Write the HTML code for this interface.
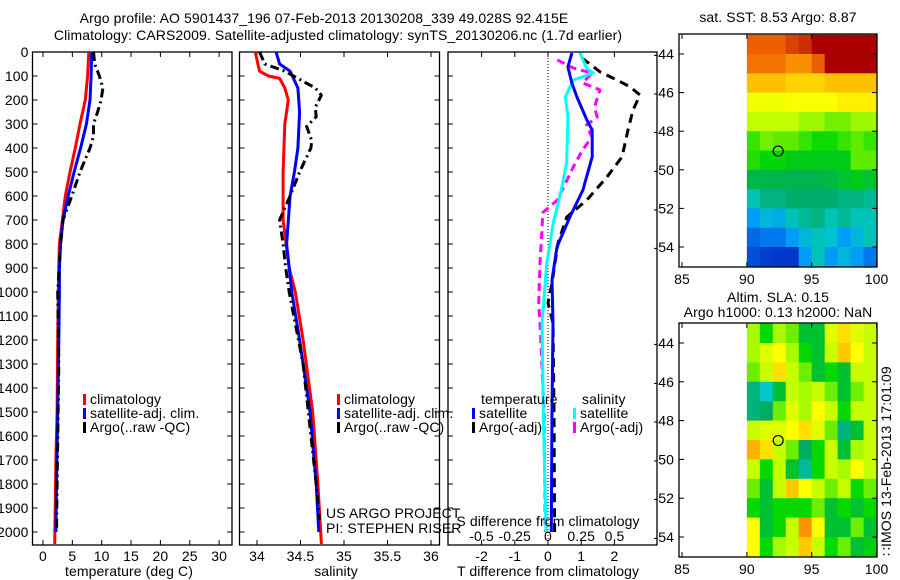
<!DOCTYPE html>
<html><head><meta charset="utf-8"><style>
body{margin:0;background:#fff;}
svg{display:block;font-family:"Liberation Sans",sans-serif;}
text{letter-spacing:0.1px;}
</style></head><body>
<svg id="fig" width="900" height="580" viewBox="0 0 900 580" xmlns="http://www.w3.org/2000/svg">
<g font-size="14" text-anchor="middle">
<text x="324" y="23">Argo profile: AO 5901437_196 07-Feb-2013 20130208_339 49.028S 92.415E</text>
<text x="338" y="40">Climatology: CARS2009. Satellite-adjusted climatology: synTS_20130206.nc (1.7d earlier)</text>
</g>
<g id="root"></g>
</svg>
<script>
// ---- data ----
const depthTicks=[0,100,200,300,400,500,600,700,800,900,1000,1100,1200,1300,1400,1500,1600,1700,1800,1900,2000];
const tTicks=[0,5,10,15,20,25,30];
const sTicks=[34,34.5,35,35.5,36];
const dtTicks=[-2,-1,0,1,2];
const dsTicks=[-0.5,-0.25,0,0.25,0.5];
const tClimDepth=[0,100,200,300,400,500,600,700,800,900,1000,1200,1500,1700,2050];
const tClim=[7.8,7.6,7.2,6.3,5.5,4.6,3.8,3.3,2.8,2.7,2.6,2.5,2.4,2.2,2.0];
const tSatDepth=[0,100,200,300,400,500,600,700,800,900,1000,1200,1500,1800,2000];
const tSat=[8.3,8.2,8.0,7.4,6.4,5.3,4.3,3.4,3.0,2.8,2.8,2.7,2.5,2.3,2.2];
const tArgoDepth=[0,50,100,150,200,250,300,350,400,500,600,700,800,1000,1300,1800,2000];
const tArgo=[8.6,8.8,9.6,10.2,9.9,9.3,8.6,8.6,8.0,6.3,4.9,3.4,3.0,2.5,2.7,2.4,2.3];
const sClimDepth=[0,50,80,100,110,150,200,300,500,700,900,1000,1200,1500,1800,2050];
const sClim=[33.98,34.01,34.03,34.13,34.26,34.32,34.36,34.32,34.30,34.30,34.37,34.44,34.53,34.64,34.70,34.74];
const sSatDepth=[0,50,80,150,250,400,500,600,800,1000,1200,1500,1800,2000];
const sSat=[34.22,34.26,34.38,34.47,34.49,34.47,34.43,34.38,34.34,34.40,34.49,34.61,34.68,34.71];
const sArgoDepth=[0,50,80,150,180,230,270,310,370,400,500,600,700,800,900,1000,1300,1800,1950];
const sArgo=[34.03,34.09,34.32,34.67,34.74,34.67,34.68,34.57,34.63,34.62,34.49,34.38,34.26,34.30,34.33,34.37,34.53,34.68,34.72];
const dtSatDepth=[4,62,130,187,283,325,437,575,687,812,950,1130,1500,2000];
const dtSat=[0.72,0.6,0.72,0.87,1.17,1.33,1.33,1.05,0.66,0.27,0.12,0.15,0.12,0.1];
const dsSatDepth=[4,67,88,117,187,270,462,575,712,883,1130,1500,2000];
const dsSat=[0.24,0.29,0.34,0.19,0.13,0.15,0.14,0.10,0.04,-0.01,-0.045,-0.035,-0.015];
const dsArgoDepth=[33,67,88,129,158,229,271,304,354,408,479,617,670,741,879,1046,1129,1500,2000];
const dsArgo=[0.07,0.19,0.33,0.26,0.39,0.35,0.37,0.29,0.33,0.26,0.19,0.07,-0.04,-0.045,-0.06,-0.07,-0.06,-0.03,-0.02];
const dtArgoDepth=[25,83,117,145,179,242,325,437,520,617,687,796,962,1046,1129,1500,2000];
const dtArgo=[1.02,1.57,2.08,2.47,2.77,2.56,2.41,2.23,1.78,1.17,0.57,0.3,0.12,0,0.15,0.18,0.2];
const lonTicks=[85,90,95,100];
const latTicks=[-44,-46,-48,-50,-52,-54];
const sstGrid=[
[11.5,11.5,11.5,11.8,12,12.5,13,13,13,13],
[11.3,11.3,11.3,11,11,11.5,12.5,13,13,13],
[10.5,10.5,10.5,10.3,10.3,10.3,10.5,10.5,10.5,10.5],
[9.7,9.7,9.7,9.8,9.8,9.8,9.8,10,10,10],
[9.2,9.2,9.2,9.2,9,9,8.8,8.8,9,9],
[8.5,8.8,8.7,8.7,8.5,8.3,8.3,8.5,8.7,8.5],
[8.4,8.2,8.2,8,8,8,8,8,8.7,8.7],
[7.5,7.5,7.5,7.5,7.5,7.5,7.6,7.8,8,7.8],
[6.5,7,7,7.2,7.2,7.2,7.2,7,7,6.8],
[5.5,6,5.8,6.5,6.8,7,6.5,6.8,6.5,6.5],
[4.8,5,5,5.5,6,6.5,6.2,5.5,6,6.5],
[4.5,4.3,4.2,4.2,5.5,6.5,5.5,6,5.5,5]];
const slaGrid=[
[.58,.5,.58,.55,.45,.45,.62,.68,.62,.6],
[.58,.62,.65,.58,.5,.45,.6,.7,.65,.6],
[.55,.6,.68,.6,.55,.45,.5,.45,.6,.6],
[.4,.35,.45,.6,.58,.6,.55,.45,.55,.6],
[.4,.42,.55,.62,.58,.65,.6,.5,.6,.6],
[.6,.62,.62,.65,.68,.62,.55,.4,.45,.6],
[.72,.68,.6,.55,.42,.5,.6,.45,.58,.6],
[.6,.5,.6,.45,.38,.5,.6,.58,.65,.6],
[.55,.45,.6,.7,.65,.6,.55,.6,.5,.55],
[.5,.45,.5,.5,.5,.55,.45,.5,.45,.5],
[.65,.45,.5,.6,.75,.65,.45,.45,.55,.45],
[.65,.5,.58,.6,.7,.6,.5,.55,.45,.48]];
const argoLon=92.415, argoLat=-49.028;

// ---- helpers ----
const NS='http://www.w3.org/2000/svg';
const root=document.getElementById('root');
const FS=14;
function mk(tag,attrs,parent,txt){const e=document.createElementNS(NS,tag);for(const k in attrs)e.setAttribute(k,attrs[k]);if(txt!==undefined)e.textContent=txt;(parent||root).appendChild(e);return e;}
const yD=d=>52+d*0.24;
const TOP=52,BOT=545;
function axisBox(x0,x1,name,y0,y1){
  const r=mk('rect',{x:x0,y:y0,width:x1-x0,height:y1-y0,fill:'none',stroke:'#000','stroke-width':1.3});
  
  
}
function line(xs,ds,xf,color,dash,name){
  const pts=xs.map((v,i)=>xf(v).toFixed(1)+','+yD(ds[i]).toFixed(1)).join(' ');
  const p=mk('polyline',{points:pts,fill:'none',stroke:color,'stroke-width':3,'stroke-dasharray':dash||'none','stroke-linejoin':'round'});
  
  
}
function ytick(x0,x1,withLabels){
  depthTicks.forEach(d=>{
    mk('line',{x1:x0,y1:yD(d),x2:x0+5,y2:yD(d),stroke:'#000'});
    mk('line',{x1:x1,y1:yD(d),x2:x1-5,y2:yD(d),stroke:'#000'});
    if(withLabels){const t=mk('text',{x:x0-4,y:yD(d)+5,'font-size':FS,'text-anchor':'end'},null,String(d));
      
      }
  });
}
function xtick(vals,xf,yb,yt,labY,fmt){
  vals.forEach(v=>{
    const x=xf(v);
    mk('line',{x1:x,y1:yb,x2:x,y2:yb-5,stroke:'#000'});
    mk('line',{x1:x,y1:yt,x2:x,y2:yt+5,stroke:'#000'});
    if(labY){const t=mk('text',{x:x,y:labY,'font-size':FS,'text-anchor':'middle'},null,fmt?fmt(v):String(v));
      
      }
  });
}
function legend(x,y,items){
  items.forEach((it,i)=>{
    const r=mk('rect',{x:x,y:y+i*14-10,width:3,height:11,fill:it[0]});
    
    
    const t=mk('text',{x:x+7,y:y+i*14,'font-size':FS},null,it[1]);
    
    
  });
}

// ---- panel 1: temperature ----
const xT=v=>43+v*5.87;
axisBox(32.5,232,'temperature-axes',TOP,BOT);
ytick(32.5,232,true);
xtick(tTicks,xT,BOT,TOP,561);
line(tClim,tClimDepth,xT,'#f00',null,'temp-climatology-line');
line(tSat,tSatDepth,xT,'#00f',null,'temp-satellite-line');
line(tArgo,tArgoDepth,xT,'#000','9,4,2,4','temp-argo-line');
legend(83,404,[['#f00','climatology'],['#00f','satellite-adj. clim.'],['#000','Argo(..raw -QC)']]);
mk('text',{x:129,y:576,'font-size':FS,'text-anchor':'middle',},null,'temperature (deg C)');

// ---- panel 2: salinity ----
const xS=v=>257+(v-34)*87;
axisBox(239.5,439.5,'salinity-axes',TOP,BOT);
ytick(239.5,439.5,false);
xtick(sTicks,xS,BOT,TOP,561);
line(sClim,sClimDepth,xS,'#f00',null,'sal-climatology-line');
line(sSat,sSatDepth,xS,'#00f',null,'sal-satellite-line');
line(sArgo,sArgoDepth,xS,'#000','9,4,2,4','sal-argo-line');
legend(337,404,[['#f00','climatology'],['#00f','satellite-adj. clim.'],['#000','Argo(..raw -QC)']]);
mk('text',{x:326,y:518,'font-size':FS,},null,'US ARGO PROJECT');
mk('text',{x:326,y:533,'font-size':FS,},null,'PI: STEPHEN RISER');
mk('text',{x:336,y:576,'font-size':FS,'text-anchor':'middle',},null,'salinity');

// ---- panel 3: differences ----
const xDT=v=>548+v*33.2;
const xDS=v=>548+v*133;
axisBox(448,657,'difference-axes',TOP,BOT);
xtick(dtTicks,xDT,BOT,TOP,561);
depthTicks.forEach(d=>{mk('line',{x1:448,y1:yD(d),x2:453,y2:yD(d),stroke:'#000'});});
mk('line',{x1:548,y1:TOP,x2:548,y2:BOT,stroke:'#000','stroke-dasharray':'1,2',});
line(dsArgo,dsArgoDepth,xDS,'#f0f','8,5','sal-diff-argo-line');
line(dtArgo,dtArgoDepth,xDT,'#000','9,6','temp-diff-argo-line');
line(dsSat,dsSatDepth,xDS,'#0ff',null,'sal-diff-satellite-line');
line(dtSat,dtSatDepth,xDT,'#00f',null,'temp-diff-satellite-line');
mk('text',{x:481,y:404,'font-size':FS,},null,'temperature');
mk('text',{x:582,y:404,'font-size':FS,},null,'salinity');
legend(472,418,[['#00f','satellite'],['#000','Argo(-adj)']]);
legend(573,418,[['#0ff','satellite'],['#f0f','Argo(-adj)']]);
mk('text',{x:548,y:526,'font-size':FS,'text-anchor':'middle',},null,'S difference from climatology');
dsTicks.forEach(v=>{const t=mk('text',{x:xDS(v),y:541,'font-size':FS,'text-anchor':'middle'},null,String(v));
  
  });
mk('text',{x:548,y:576,'font-size':FS,'text-anchor':'middle',},null,'T difference from climatology');

// ---- maps ----
const cmapStops=[[0,0,0,130],[0.12,0,50,200],[0.25,0,150,255],[0.35,0,200,200],[0.45,0,170,100],[0.55,0,215,0],[0.65,190,255,0],[0.72,255,255,0],[0.82,255,165,0],[0.9,235,90,0],[1,170,0,0]];
function cmap(f){f=Math.max(0,Math.min(1,f));
  for(let i=1;i<cmapStops.length;i++){const a=cmapStops[i-1],b=cmapStops[i];
    if(f<=b[0]){const t=(f-a[0])/(b[0]-a[0]);
      return 'rgb('+[1,2,3].map(k=>Math.round(a[k]+(b[k]-a[k])*t)).join(',')+')';}}
  return 'rgb(170,0,0)';}
function interp(v,xs,ys){if(v<=xs[0])return ys[0];for(let i=1;i<xs.length;i++){if(v<=xs[i])return ys[i-1]+(ys[i]-ys[i-1])*(v-xs[i-1])/(xs[i]-xs[i-1]);}return ys[ys.length-1];}
function map(opt){
  const xL=v=>682+(v-85)*12.97;
  const yL=v=>opt.y44+(-44-v)*opt.dy;
  const g=mk('g',{});
  
  
  opt.grid.forEach((row,i)=>row.forEach((v,j)=>{
    const x0=xL(90+j),x1=xL(91+j),y0=yL(-43-i),y1=yL(-44-i);
    const r=mk('rect',{x:x0,y:y0,width:x1-x0+0.5,height:y1-y0+0.5,fill:cmap(opt.scale(v))},g);
    
    
  }));
  const top=opt.top,bot=opt.bot;
  axisBox(679,877,opt.name+'-axes',top,bot);
  lonTicks.forEach(v=>{mk('line',{x1:xL(v),y1:bot,x2:xL(v),y2:bot-5,stroke:'#000'});mk('line',{x1:xL(v),y1:top,x2:xL(v),y2:top+5,stroke:'#000'});
    const t=mk('text',{x:xL(v),y:bot+17,'font-size':FS,'text-anchor':'middle'},null,String(v));
    
    });
  latTicks.forEach(v=>{mk('line',{x1:877,y1:yL(v),x2:872,y2:yL(v),stroke:'#000'});mk('line',{x1:679,y1:yL(v),x2:684,y2:yL(v),stroke:'#000'});
    const t=mk('text',{x:674,y:yL(v)+5,'font-size':FS,'text-anchor':'end'},null,String(v));
    
    });
  const c=mk('circle',{cx:xL(argoLon),cy:yL(argoLat),r:5,fill:'none',stroke:'#000','stroke-width':1.2});
  
  
}
map({name:'sst-map',grid:sstGrid,scale:v=>(v-3)/9.5,y44:54,dy:19.3,top:34,bot:267});
map({name:'sla-map',grid:slaGrid,scale:v=>interp(v,[.35,.45,.6,.7,.75],[.35,.5,.66,.78,.84]),y44:343,dy:19.4,top:323,bot:557});
mk('text',{x:778,y:22,'font-size':FS,'text-anchor':'middle',},null,'sat. SST: 8.53 Argo: 8.87');
mk('text',{x:778,y:302,'font-size':FS,'text-anchor':'middle',},null,'Altim. SLA: 0.15');
mk('text',{x:778,y:317,'font-size':FS,'text-anchor':'middle',},null,'Argo h1000: 0.13 h2000: NaN');
mk('text',{x:0,y:0,'font-size':FS,transform:'translate(891,556) rotate(-90)',},null,'\u2237IMOS 13-Feb-2013 17:01:09');
</script>
</body></html>
